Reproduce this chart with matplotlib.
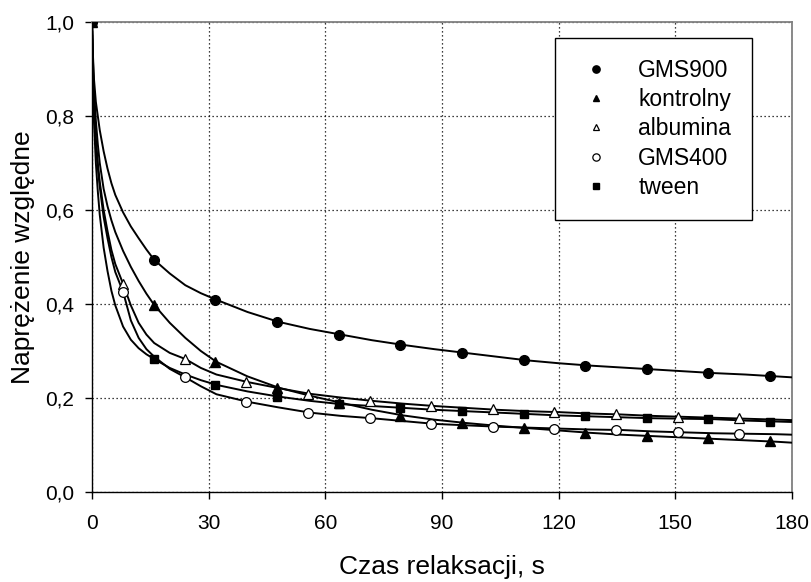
import matplotlib.pyplot as plt
import matplotlib.ticker as ticker

plt.rcParams['font.family'] = ['Liberation Sans', 'DejaVu Sans']

# czas dla krzywych ciaglych, s
t_line = [0, 0.25, 0.5, 1, 1.5, 2, 3, 4, 5, 6, 8, 10, 12, 14, 16, 20, 24, 28, 32,
          40, 48, 56, 64, 72, 80, 88, 96, 104, 112, 120, 128, 136, 144, 152, 160,
          168, 176, 180]

gms900_line = [1.0, 0.93, 0.88, 0.83, 0.80, 0.77, 0.725, 0.688, 0.657, 0.632, 0.595,
               0.565, 0.54, 0.516, 0.494, 0.465, 0.44, 0.423, 0.409, 0.383, 0.362,
               0.347, 0.335, 0.323, 0.313, 0.304, 0.296, 0.288, 0.28, 0.274, 0.269,
               0.265, 0.261, 0.257, 0.253, 0.25, 0.246, 0.244]
kontrolny_line = [1.0, 0.92, 0.86, 0.79, 0.74, 0.70, 0.645, 0.608, 0.578, 0.553, 0.513,
                  0.479, 0.449, 0.422, 0.398, 0.36, 0.328, 0.30, 0.277, 0.246, 0.222,
                  0.205, 0.19, 0.175, 0.163, 0.154, 0.147, 0.141, 0.136, 0.131, 0.126,
                  0.122, 0.119, 0.116, 0.113, 0.11, 0.107, 0.105]
albumina_line = [1.0, 0.90, 0.83, 0.75, 0.70, 0.66, 0.60, 0.555, 0.515, 0.485, 0.443,
                 0.397, 0.36, 0.335, 0.317, 0.296, 0.283, 0.264, 0.25, 0.234, 0.221,
                 0.209, 0.201, 0.194, 0.188, 0.183, 0.179, 0.175, 0.172, 0.17, 0.167,
                 0.165, 0.162, 0.16, 0.158, 0.156, 0.154, 0.153]
gms400_line = [1.0, 0.90, 0.82, 0.74, 0.69, 0.65, 0.585, 0.54, 0.50, 0.468, 0.426,
               0.365, 0.328, 0.304, 0.288, 0.262, 0.244, 0.225, 0.208, 0.192, 0.18,
               0.169, 0.162, 0.157, 0.151, 0.145, 0.142, 0.139, 0.137, 0.135, 0.133,
               0.132, 0.129, 0.127, 0.125, 0.124, 0.123, 0.122]
tween_line = [1.0, 0.87, 0.79, 0.70, 0.64, 0.59, 0.52, 0.47, 0.428, 0.397, 0.352,
              0.324, 0.306, 0.293, 0.283, 0.264, 0.25, 0.238, 0.228, 0.214, 0.203,
              0.194, 0.187, 0.183, 0.179, 0.175, 0.172, 0.169, 0.166, 0.163, 0.161,
              0.159, 0.157, 0.156, 0.155, 0.152, 0.15, 0.149]

# punkty pomiarowe (znaczniki)
t_a = [0, 15.9, 31.7, 47.6, 63.4, 79.3, 95.1, 111.0, 126.8, 142.7, 158.5, 174.4]
t_b = [7.9, 23.8, 39.6, 55.5, 71.4, 87.2, 103.1, 118.9, 134.8, 150.6, 166.5]

gms900_pts = [1.0, 0.494, 0.409, 0.362, 0.335, 0.313, 0.296, 0.280, 0.269, 0.262,
              0.254, 0.247]
kontrolny_pts = [1.0, 0.398, 0.277, 0.221, 0.190, 0.162, 0.147, 0.137, 0.126, 0.119,
                 0.114, 0.108]
tween_pts = [1.0, 0.283, 0.228, 0.203, 0.187, 0.179, 0.172, 0.166, 0.161, 0.157,
             0.156, 0.150]
albumina_pts = [0.443, 0.284, 0.234, 0.209, 0.194, 0.183, 0.176, 0.171, 0.165,
                0.160, 0.157]
gms400_pts = [0.426, 0.244, 0.192, 0.169, 0.157, 0.145, 0.139, 0.135, 0.132,
              0.127, 0.124]

fig = plt.figure(figsize=(8.11, 5.82), dpi=100)
ax = fig.add_axes([0.1134, 0.1546, 0.8631, 0.8076])

for y in (gms900_line, kontrolny_line, albumina_line, gms400_line, tween_line):
    ax.plot(t_line, y, color='black', lw=1.4, zorder=3)

h900, = ax.plot(t_a, gms900_pts, 'o', ms=7, mfc='black', mec='black', zorder=6,
                label='GMS900')
hk, = ax.plot(t_a, kontrolny_pts, '^', ms=6.5, mfc='black', mec='black', zorder=5,
              label='kontrolny')
ha, = ax.plot(t_b, albumina_pts, '^', ms=6.5, mfc='white', mec='black', mew=0.9,
              zorder=5, label='albumina')
h400, = ax.plot(t_b, gms400_pts, 'o', ms=7, mfc='white', mec='black', mew=0.9,
                zorder=5, label='GMS400')
ht, = ax.plot(t_a, tween_pts, 's', ms=5.5, mfc='black', mec='black', zorder=5,
              label='tween')

ax.set_xlim(0, 180)
ax.set_ylim(0, 1.0)
ax.xaxis.set_major_locator(ticker.MultipleLocator(30))
ax.yaxis.set_major_locator(ticker.MultipleLocator(0.2))
ax.yaxis.set_major_formatter(ticker.FuncFormatter(lambda v, p: ('%.1f' % v).replace('.', ',')))

ax.grid(True, color='black', linestyle=(0, (1, 2.2)), lw=0.9)
ax.set_axisbelow(True)
gx = ax.xaxis.get_gridlines()
gy = ax.yaxis.get_gridlines()
for g in (gx[0], gx[-1], gy[0], gy[-1]):
    g.set_visible(False)

ax.spines['top'].set_color('#808080')
ax.spines['right'].set_color('#808080')
ax.spines['top'].set_linewidth(1.3)
ax.spines['right'].set_linewidth(1.3)
ax.spines['left'].set_linewidth(1.0)
ax.spines['bottom'].set_linewidth(1.0)

ax.tick_params(direction='out', length=5, width=1, labelsize=15, top=False, right=False)
ax.tick_params(axis='x', pad=11)
ax.tick_params(axis='y', pad=8)

ax.set_xlabel('Czas relaksacji, s', fontsize=19, labelpad=16)
ax.set_ylabel('Naprężenie względne', fontsize=19, labelpad=7)

leg = ax.legend(handles=[h900, hk, ha, h400, ht], loc='upper left',
                bbox_to_anchor=(0.661, 0.966), fontsize=16.5, frameon=True,
                fancybox=False, edgecolor='black', framealpha=1, borderpad=0.9,
                handlelength=1.8, handletextpad=0.95, labelspacing=0.28,
                markerscale=0.75, borderaxespad=0)
leg.get_frame().set_linewidth(1.0)
leg.set_zorder(10)

plt.savefig('out.png', dpi=100)
plt.close(fig)
